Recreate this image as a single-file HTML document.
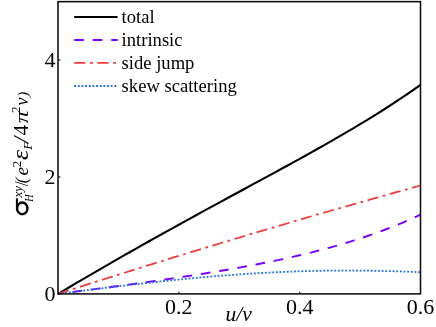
<!DOCTYPE html>
<html><head><meta charset="utf-8"><style>
html,body{margin:0;padding:0;background:#fff;}
body{width:436px;height:327px;overflow:hidden;}
svg{display:block;will-change:transform;opacity:0.999;}
text{font-family:"Liberation Serif",serif;fill:#000;}
</style></head><body>
<svg width="436" height="327" viewBox="0 0 436 327">
<rect width="436" height="327" fill="#fff"/>
<g fill="none" stroke-linecap="butt" stroke-linejoin="round">
<path d="M58.00,293.90 L64.04,290.31 L70.08,286.74 L76.12,283.18 L82.17,279.63 L88.21,276.10 L94.25,272.58 L100.29,269.08 L106.33,265.59 L112.38,262.11 L118.42,258.64 L124.46,255.19 L130.50,251.76 L136.54,248.33 L142.58,244.92 L148.62,241.52 L154.67,238.14 L160.71,234.76 L166.75,231.40 L172.79,228.05 L178.83,224.71 L184.88,221.38 L190.92,218.06 L196.96,214.75 L203.00,211.44 L209.04,208.15 L215.08,204.86 L221.12,201.57 L227.17,198.29 L233.21,195.02 L239.25,191.74 L245.29,188.47 L251.33,185.20 L257.38,181.93 L263.42,178.65 L269.46,175.37 L275.50,172.08 L281.54,168.78 L287.58,165.48 L293.62,162.16 L299.67,158.83 L305.71,155.48 L311.75,152.11 L317.79,148.72 L323.83,145.31 L329.88,141.87 L335.92,138.41 L341.96,134.91 L348.00,131.38 L354.04,127.80 L360.08,124.19 L366.12,120.53 L372.17,116.83 L378.21,113.07 L384.25,109.25 L390.29,105.37 L396.33,101.43 L402.38,97.42 L408.42,93.34 L414.46,89.18 L420.50,84.94" stroke="#000" stroke-width="2.1"/>
<path d="M58.00,293.90 L64.04,293.12 L70.08,292.33 L76.12,291.54 L82.17,290.76 L88.21,289.97 L94.25,289.17 L100.29,288.38 L106.33,287.58 L112.38,286.77 L118.42,285.97 L124.46,285.15 L130.50,284.33 L136.54,283.50 L142.58,282.67 L148.62,281.83 L154.67,280.98 L160.71,280.11 L166.75,279.24 L172.79,278.36 L178.83,277.46 L184.88,276.56 L190.92,275.63 L196.96,274.70 L203.00,273.74 L209.04,272.77 L215.08,271.78 L221.12,270.77 L227.17,269.74 L233.21,268.69 L239.25,267.62 L245.29,266.52 L251.33,265.39 L257.38,264.24 L263.42,263.05 L269.46,261.84 L275.50,260.59 L281.54,259.31 L287.58,257.99 L293.62,256.63 L299.67,255.23 L305.71,253.79 L311.75,252.31 L317.79,250.77 L323.83,249.19 L329.88,247.55 L335.92,245.86 L341.96,244.11 L348.00,242.30 L354.04,240.43 L360.08,238.49 L366.12,236.48 L372.17,234.40 L378.21,232.24 L384.25,230.01 L390.29,227.69 L396.33,225.28 L402.38,222.79 L408.42,220.20 L414.46,217.51 L420.50,214.72" stroke="#7a00ff" stroke-width="1.9" stroke-dasharray="9.7 8.8" stroke-dashoffset="3.8"/>
<path d="M58.00,293.90 L64.04,291.95 L70.08,290.01 L76.12,288.07 L82.17,286.14 L88.21,284.21 L94.25,282.29 L100.29,280.37 L106.33,278.46 L112.38,276.55 L118.42,274.64 L124.46,272.74 L130.50,270.85 L136.54,268.96 L142.58,267.07 L148.62,265.19 L154.67,263.32 L160.71,261.45 L166.75,259.58 L172.79,257.72 L178.83,255.86 L184.88,254.01 L190.92,252.16 L196.96,250.32 L203.00,248.48 L209.04,246.65 L215.08,244.82 L221.12,243.00 L227.17,241.18 L233.21,239.37 L239.25,237.56 L245.29,235.75 L251.33,233.95 L257.38,232.16 L263.42,230.37 L269.46,228.58 L275.50,226.80 L281.54,225.03 L287.58,223.26 L293.62,221.49 L299.67,219.73 L305.71,217.97 L311.75,216.22 L317.79,214.47 L323.83,212.73 L329.88,210.99 L335.92,209.26 L341.96,207.53 L348.00,205.81 L354.04,204.09 L360.08,202.38 L366.12,200.67 L372.17,198.96 L378.21,197.26 L384.25,195.57 L390.29,193.88 L396.33,192.20 L402.38,190.51 L408.42,188.84 L414.46,187.17 L420.50,185.50" stroke="#ec3e3e" stroke-width="1.8" stroke-dasharray="11.2 4.55 2.8 4.55" stroke-dashoffset="0"/>
<path d="M58.00,293.90 L64.04,293.13 L70.08,292.36 L76.12,291.59 L82.17,290.82 L88.21,290.06 L94.25,289.30 L100.29,288.54 L106.33,287.79 L112.38,287.05 L118.42,286.32 L124.46,285.59 L130.50,284.88 L136.54,284.17 L142.58,283.47 L148.62,282.79 L154.67,282.12 L160.71,281.46 L166.75,280.81 L172.79,280.18 L178.83,279.57 L184.88,278.97 L190.92,278.38 L196.96,277.82 L203.00,277.27 L209.04,276.74 L215.08,276.22 L221.12,275.73 L227.17,275.26 L233.21,274.81 L239.25,274.38 L245.29,273.97 L251.33,273.58 L257.38,273.22 L263.42,272.87 L269.46,272.55 L275.50,272.26 L281.54,271.98 L287.58,271.73 L293.62,271.51 L299.67,271.30 L305.71,271.13 L311.75,270.97 L317.79,270.84 L323.83,270.74 L329.88,270.66 L335.92,270.60 L341.96,270.57 L348.00,270.56 L354.04,270.57 L360.08,270.61 L366.12,270.68 L372.17,270.76 L378.21,270.87 L384.25,271.00 L390.29,271.15 L396.33,271.32 L402.38,271.51 L408.42,271.72 L414.46,271.95 L420.50,272.20" stroke="#1f6fe0" stroke-width="1.8" stroke-dasharray="1.85 1.8"/>
</g>
<!-- frame -->
<rect x="58.0" y="1.65" width="362.5" height="292.25" fill="none" stroke="#0d0d0d" stroke-width="1.55"/>
<g stroke="#1a1a1a" stroke-width="1.2">
<line x1="178.83" y1="293.9" x2="178.83" y2="291.7"/>
<line x1="299.67" y1="293.9" x2="299.67" y2="291.7"/>
<line x1="58.0" y1="177.00" x2="60.4" y2="177.00"/>
<line x1="58.0" y1="60.10" x2="60.4" y2="60.10"/>
</g>
<g font-size="22px">
<text x="55.4" y="67.10" text-anchor="end">4</text>
<text x="55.4" y="184.00" text-anchor="end">2</text>
<text x="55.4" y="300.90" text-anchor="end">0</text>
<text x="178.83" y="313.8" text-anchor="middle">0.2</text>
<text x="299.67" y="313.8" text-anchor="middle">0.4</text>
<text x="420.50" y="313.8" text-anchor="middle">0.6</text>
</g>
<text x="238.6" y="320.8" text-anchor="middle" font-size="21.5px" font-style="italic">u/v</text>
<!-- legend -->
<g fill="none">
<line x1="74.2" y1="17" x2="117.6" y2="17" stroke="#000" stroke-width="1.9"/>
<line x1="74.2" y1="40.0" x2="117.8" y2="40.0" stroke="#7a00ff" stroke-width="1.9" stroke-dasharray="9.7 8.8"/>
<line x1="74.2" y1="62.9" x2="117.6" y2="62.9" stroke="#ec3e3e" stroke-width="1.8" stroke-dasharray="11.2 4.6 2.8 4.6"/>
<line x1="74.2" y1="86.0" x2="117.6" y2="86.0" stroke="#1f6fe0" stroke-width="1.8" stroke-dasharray="1.85 1.8"/>
</g>
<g font-size="18.6px">
<text x="121.6" y="22.6">total</text>
<text x="121.6" y="45.7">intrinsic</text>
<text x="121.6" y="69.1">side jump</text>
<text x="121.6" y="92.3">skew scattering</text>
</g>
<!-- y label -->
<g transform="translate(28.2,216.0) rotate(-90)"><g fill="none" stroke="#000"><ellipse cx="7.6" cy="-5.95" rx="5.9" ry="5.2" stroke-width="2.4"/><path d="M7.5,-11.3 L17.6,-11.3" stroke-width="2.0"/></g><text x="18.43" y="-6.40" font-size="13px" font-style="italic">xy</text><text transform="translate(14.30,4.80) scale(0.85,1)" font-size="12px" font-style="italic">H</text><text x="29.70" y="-0.50" font-size="18px" >/</text><text x="32.89" y="-1.70" font-size="17px" font-style="italic">(</text><text x="40.43" y="0.00" font-size="19px" font-style="italic">e</text><text x="48.68" y="-7.30" font-size="13px" >2</text><text transform="translate(56.08,0.00) scale(1.12,1)" font-size="23px" font-style="italic">ε</text><text transform="translate(66.30,3.90) scale(1.1,1)" font-size="12.5px" font-style="italic">F</text><text x="73.28" y="0.00" font-size="22px" font-style="italic">/</text><text x="80.57" y="0.00" font-size="21.3px" >4</text><text transform="translate(92.75,0.00) scale(1.3,1)" font-size="19.5px" font-style="italic">π</text><text x="102.98" y="-8.40" font-size="13px" >2</text><text x="110.62" y="0.00" font-size="18px" font-style="italic">v</text><text transform="translate(119.00,-0.60) scale(1.1,1)" font-size="14.5px" font-style="italic">)</text></g>
</svg>
</body></html>
